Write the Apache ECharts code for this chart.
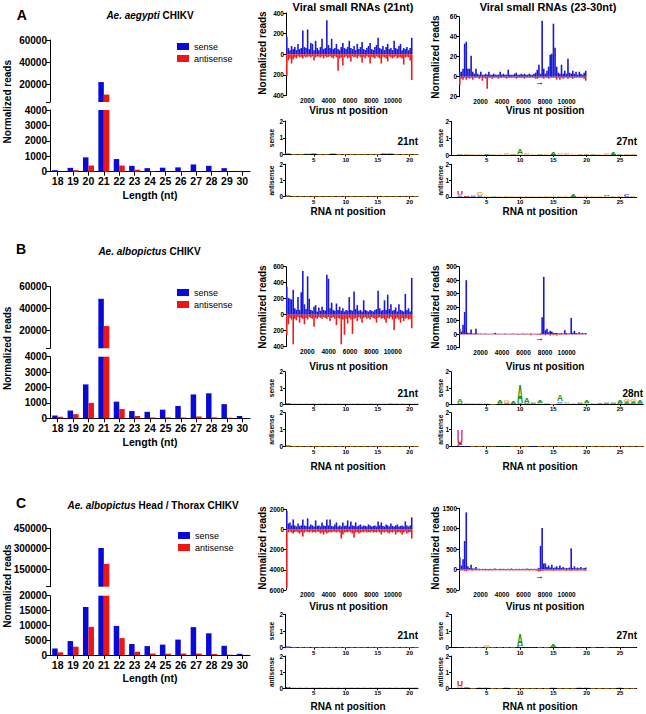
<!DOCTYPE html>
<html><head><meta charset="utf-8">
<script src="https://cdn.jsdelivr.net/npm/echarts@6/dist/echarts.min.js"></script>
<style>html,body{margin:0;padding:0;background:#fff}#c{width:646px;height:714px}</style>
</head><body><div id="c"></div><script>
const FONT = '"Liberation Sans", Arial, sans-serif';
const BLUE = '#0a0ad8', RED = '#ee1515', CBLUE = '#1a1ad6', CRED = '#ec1c1c';
const LOGO_COL = {A:'#139413', C:'#2a2ad0', G:'#f2a21e', U:'#d81818'};

// ---- read-length distributions ----
const lengths = ['18','19','20','21','22','23','24','25','26','27','28','29','30'];
const senseA = [100,250,930,22000,820,380,230,260,280,470,380,230,50];
const antiA  = [0,100,400,10700,400,130,30,10,10,20,10,10,0];
const senseB = [180,500,2200,49000,1080,470,420,560,800,1550,1620,920,150];
const antiB  = [100,270,1000,24200,600,150,50,60,50,120,60,40,0];
const senseC = [2200,4700,16200,305000,9800,3700,3000,3500,5200,9400,7300,3100,400];
const antiC  = [900,2800,9500,188000,5700,1100,500,450,500,500,350,100,50];

// ---- coverage along the genome, 150-nt bins ----
const BIN = 150;
const covA21S = [170,60,40,80,50,70,40,100,50,60,230,70,60,240,50,110,100,40,130,60,40,70,150,50,60,330,90,60,150,50,60,100,50,40,70,110,60,50,70,130,60,50,80,40,100,50,70,120,50,40,60,80,110,50,40,70,90,160,60,50,80,40,70,100,50,60,40,130,60,50,80,100,40,60,50,70,40,60,160];
const covA21A = [-210,-60,-40,-90,-50,-30,-40,-20,-30,-25,-40,-20,-30,-25,-20,-30,-20,-60,-30,-20,-25,-30,-20,-40,-20,-30,-25,-20,-30,-40,-20,-30,-160,-40,-30,-110,-30,-20,-40,-30,-70,-20,-30,-25,-40,-20,-30,-80,-25,-40,-20,-30,-90,-25,-30,-40,-20,-30,-40,-90,-25,-30,-40,-70,-20,-30,-40,-30,-20,-40,-30,-30,-40,-100,-30,-25,-30,-60,-250];
const covA30S = [5,5,8,33,35,8,8,21,5,3,8,3,2,5,2,2,3,2,5,2,2,3,2,2,2,5,2,3,2,2,7,2,2,2,3,4,2,2,3,2,3,2,2,3,2,2,3,4,7,12,3,56,8,3,6,10,22,23,53,29,10,4,3,12,3,6,3,18,4,3,6,3,5,2,5,3,2,4,6];
const covA30A = [-8,-2,-3,-1,-3,-1,-2,-1,-3,-1,-1,-1,-2,-1,-4,-1,-2,-12,-1,-1,-2,-1,-1,-1,-2,-1,-1,-1,-1,-2,-1,-1,-1,-1,-1,-2,-1,-1,-1,-1,-2,-1,-1,-1,-1,-1,-1,-2,-2,-1,-1,-1,-2,-1,-1,-2,-1,-1,-1,-1,-3,-1,-3,-1,-2,-1,-1,-2,-1,-1,-2,-1,-1,-1,-1,-1,-1,-2,-4];
const covB21S = [350,210,200,190,310,80,60,220,60,280,545,130,70,480,200,60,50,100,120,40,90,50,100,60,50,500,450,80,150,60,50,140,60,100,50,80,40,60,50,220,60,50,290,70,120,50,60,40,180,60,50,40,60,50,40,60,70,300,80,50,60,180,60,250,70,130,50,60,90,40,130,60,50,40,260,60,80,40,460];
const covB21A = [-250,-120,-40,-60,-370,-50,-70,-30,-100,-40,-50,-120,-40,-60,-30,-40,-50,-150,-40,-50,-30,-40,-50,-30,-40,-50,-30,-80,-40,-30,-50,-130,-40,-50,-370,-60,-250,-50,-110,-40,-60,-240,-50,-40,-80,-30,-50,-100,-40,-30,-50,-40,-60,-30,-40,-50,-100,-40,-30,-50,-40,-60,-100,-40,-50,-30,-60,-190,-50,-40,-60,-100,-40,-80,-50,-40,-60,-50,-170];
const covB30S = [40,20,70,165,400,10,8,35,5,6,40,5,4,5,3,3,5,3,4,3,3,5,10,3,3,4,3,3,5,3,3,4,3,6,3,3,4,3,3,5,3,3,4,3,5,3,3,4,3,4,5,125,425,30,40,15,25,20,10,8,10,6,5,8,6,30,8,5,6,120,10,25,8,5,15,6,10,5,8];
const covB30A = [-5,-2,-2,-2,-3,-2,-2,-2,-2,-2,-2,-2,-2,-2,-2,-2,-2,-2,-2,-2,-2,-2,-3,-2,-2,-2,-2,-2,-2,-2,-2,-2,-2,-2,-2,-2,-6,-2,-2,-2,-5,-2,-2,-2,-8,-2,-2,-2,-5,-2,-6,-2,-2,-8,-2,-2,-10,-2,-8,-2,-10,-2,-6,-2,-2,-2,-5,-2,-2,-2,-2,-2,-2,-2,-2,-2,-2,-2,-3];
const covC21S = [1850,600,700,400,1000,400,300,600,350,400,1000,400,350,1100,300,500,400,300,900,350,400,300,700,400,350,1000,400,1000,350,300,500,700,300,400,300,700,350,400,900,300,800,400,350,700,300,400,500,300,400,350,300,500,400,300,350,400,300,800,400,700,350,300,500,400,300,600,350,300,400,500,300,350,400,300,800,400,300,400,1200];
const covC21A = [-5800,-300,-200,-300,-400,-250,-200,-300,-400,-250,-700,-300,-200,-250,-300,-200,-300,-250,-300,-200,-250,-400,-300,-500,-250,-400,-300,-250,-300,-200,-250,-300,-200,-300,-900,-500,-300,-250,-300,-200,-300,-400,-800,-300,-250,-400,-300,-250,-300,-200,-300,-250,-300,-200,-300,-250,-300,-200,-300,-500,-250,-300,-200,-300,-400,-250,-300,-200,-500,-300,-250,-300,-500,-300,-200,-400,-300,-250,-900];
const covC30S = [300,100,250,700,1400,80,40,120,30,25,60,20,20,15,20,15,20,15,15,20,15,20,25,15,15,20,15,20,15,15,20,15,25,15,15,20,15,20,15,20,15,20,25,15,20,15,20,15,20,40,580,1020,150,150,60,100,50,120,40,50,80,40,100,40,60,30,40,30,50,520,40,80,30,50,30,60,25,40,50];
const covC30A = [-30,-20,-25,-30,-40,-20,-15,-20,-25,-15,-20,-15,-20,-15,-20,-15,-25,-15,-20,-15,-20,-15,-20,-15,-15,-20,-15,-20,-15,-20,-15,-20,-15,-20,-15,-20,-15,-20,-15,-20,-15,-20,-15,-25,-15,-20,-15,-20,-30,-50,-40,-30,-25,-20,-30,-20,-25,-20,-30,-20,-25,-20,-30,-20,-25,-20,-30,-20,-25,-30,-20,-25,-20,-30,-20,-25,-20,-25,-30];

// ---- sequence logos (bits per letter at each position) ----
const logoA21S = [{C:.05,G:.05},{G:.03},{G:.03},{G:.05,A:.04},{G:.05,A:.05},{G:.03},{G:.03},{G:.06,A:.05},{G:.03},{G:.03},{G:.03},{G:.03},{G:.03},{G:.03},{G:.03},{G:.05,A:.05},{G:.05,A:.05},{G:.03},{G:.03},{G:.03},{G:.03}];
const logoA21A = [{C:.06,G:.03},{G:.03},{G:.03},{G:.03},{G:.03},{G:.03},{G:.03},{G:.03},{G:.03},{G:.03},{G:.03},{G:.04},{G:.03},{G:.03},{G:.03},{G:.04},{G:.04},{G:.04},{G:.03},{G:.03},{G:.03}];
const logoB21S = [{C:.07,A:.03},{G:.03},{G:.03},{G:.05},{G:.05},{G:.03},{G:.03},{G:.06},{G:.03},{G:.03},{G:.03},{G:.03},{G:.03},{G:.03},{G:.03},{G:.06},{G:.07,A:.03},{G:.06},{G:.03},{G:.03},{G:.03}];
const logoB21A = [{C:.07,G:.03},{G:.03},{G:.03},{G:.03},{G:.03},{G:.03},{G:.03},{G:.05},{G:.03},{G:.03},{G:.03},{G:.03},{G:.03},{G:.03},{G:.03},{G:.03},{G:.06},{G:.07},{G:.06},{G:.03},{G:.03}];
const logoC21S = [{C:.06,G:.04},{G:.03},{G:.03},{G:.05},{G:.05},{G:.03},{G:.03},{G:.05},{G:.03},{G:.03},{G:.03},{G:.05},{G:.03},{G:.03},{G:.03},{G:.06},{G:.07},{G:.06},{G:.03},{G:.03},{G:.03}];
const logoC21A = [{C:.07,U:.03},{G:.03},{G:.03},{G:.03},{G:.05},{G:.03},{G:.03},{G:.05},{G:.03},{G:.03},{G:.03},{G:.03},{G:.03},{G:.03},{G:.03},{G:.03},{G:.06},{G:.07},{G:.06},{G:.03},{G:.03}];
const logoA27S = [{G:.03,A:.03},{A:.02,G:.02},{G:.02},{G:.02},{C:.03,A:.09},{G:.02},{G:.02},{G:.03,A:.05},{G:.03,A:.04},{G:.06,A:.3},{G:.03,A:.07},{G:.02},{G:.02,A:.02},{G:.03},{C:.03,A:.11},{G:.03,A:.07},{G:.03,A:.05},{G:.02},{G:.03,A:.02},{G:.03,A:.03},{G:.02,A:.02},{G:.02},{G:.04,A:.04},{C:.03,A:.13},{G:.03,A:.03},{G:.03,A:.02},{G:.03,A:.02}];
const logoA27A = [{C:.05,G:.05,U:.25},{C:.02,U:.02},{C:.05,A:.05},{C:.05,G:.2},{G:.03},{A:.08},{G:.02},{G:.06},{G:.04},{G:.04},{G:.03},{G:.02},{G:.06},{G:.04},{G:.05},{G:.03},{G:.06},{C:.03,A:.12},{G:.08},{G:.04},{G:.02},{G:.02},{G:.04,U:.08},{G:.1},{G:.06},{C:.12},{G:.04}];
const logoB28S = [{C:.07,A:.2},{A:.08},{G:.03},{G:.03},{G:.06},{G:.02},{C:.08,A:.12},{C:.07,G:.18},{A:.12},{C:.08,A:1.12},{C:.07,A:.35},{C:.1,A:.1},{G:.08,A:.17},{A:.08},{G:.02},{C:.1,G:.08,A:.4},{G:.1,A:.1},{G:.05},{C:.08,A:.1},{G:.08,A:.14},{G:.06},{C:.05},{C:.07,A:.08},{C:.08,A:.1},{C:.08,A:.12},{G:.15,A:.13},{G:.18,A:.12},{C:.08,A:.17}];
const logoB28A = [{C:.12,U:.9},{C:.05},{G:.02},{G:.05},{G:.05},{G:.02},{A:.08},{A:.08},{G:.02},{G:.04},{G:.02},{C:.04},{G:.02},{G:.02},{G:.04},{G:.02},{G:.02},{G:.02},{G:.04},{G:.08},{G:.07},{G:.02},{G:.02},{G:.04},{G:.02},{G:.02},{G:.02},{G:.02}];
const logoC27S = [{A:.06},{G:.02},{G:.02},{G:.02},{G:.18},{G:.06},{G:.02},{G:.08},{G:.05},{C:.12,A:.7},{A:.1},{A:.08},{G:.04},{G:.03},{C:.04,A:.18},{A:.1},{A:.1},{G:.03},{A:.1},{A:.1},{G:.1},{A:.06},{G:.03},{A:.1},{A:.1},{A:.1},{A:.08}];
const logoC27A = [{G:.12,U:.35},{C:.05},{G:.02},{G:.05},{G:.05},{G:.02},{G:.02},{G:.05},{G:.02},{G:.02},{G:.02},{G:.02},{G:.02},{G:.02},{G:.05},{G:.02},{G:.02},{G:.02},{G:.04},{G:.04},{G:.02},{G:.02},{G:.02},{G:.02},{G:.08},{G:.02},{G:.02}];

// ---------------- layout ----------------
const barRows = [
  {sense:senseA, anti:antiA, top:[40,62], bot:[110,61.7], split:4000, max:60000, topLabels:[20000,40000,60000], botInt:1000, legend:[177,42]},
  {sense:senseB, anti:antiB, top:[286.7,61.6], bot:[356.7,61.6], split:4000, max:60000, topLabels:[20000,40000,60000], botInt:1000, legend:[177,288]},
  {sense:senseC, anti:antiC, top:[528.3,58.4], bot:[595.7,59.3], split:20000, max:450000, topLabels:[150000,300000,450000], botInt:5000, legend:[178,531]}
];
const covPanels = [
  {s:covA21S, a:covA21A, left:286, width:126, top:13, height:82.5, min:-400, max:400, step:200},
  {s:covA30S, a:covA30A, left:459, width:127, top:16.7, height:80, min:-20, max:60, step:20},
  {s:covB21S, a:covB21A, left:286, width:126, top:266.7, height:80, min:-400, max:600, step:200},
  {s:covB30S, a:covB30A, left:459, width:127, top:266.7, height:81, min:-100, max:500, step:100},
  {s:covC21S, a:covC21A, left:286, width:126, top:509.3, height:80.7, min:-6000, max:2000, step:2000},
  {s:covC30S, a:covC30A, left:459, width:127, top:508.3, height:81.7, min:-500, max:1500, step:500}
];
const MID = {left:285, width:133, min:0.5, max:21.3, ticks:[5,10,15,20]};
const RIGHT27 = {left:451, width:185.7, min:-0.35, max:27.5, ticks:[5,10,15,20,25]};
const RIGHT28 = {left:451, width:192.3, min:-0.35, max:28.5, ticks:[5,10,15,20,25]};
const logoPanels = [
  Object.assign({stacks:logoA21S, top:121, height:33.5}, MID),
  Object.assign({stacks:logoA21A, top:164.3, height:32.4}, MID),
  Object.assign({stacks:logoA27S, top:121.5, height:33.5}, RIGHT27),
  Object.assign({stacks:logoA27A, top:164.3, height:32.6}, RIGHT27),
  Object.assign({stacks:logoB21S, top:371.7, height:32.6}, MID),
  Object.assign({stacks:logoB21A, top:412.7, height:34}, MID),
  Object.assign({stacks:logoB28S, top:371.7, height:32.6}, RIGHT28),
  Object.assign({stacks:logoB28A, top:412.7, height:34}, RIGHT28),
  Object.assign({stacks:logoC21S, top:614.3, height:33.4}, MID),
  Object.assign({stacks:logoC21A, top:656, height:32.3}, MID),
  Object.assign({stacks:logoC27S, top:614.3, height:33.4}, RIGHT27),
  Object.assign({stacks:logoC27A, top:656, height:32.3}, RIGHT27)
];

const option = {animation:false, backgroundColor:'#fff', grid:[], xAxis:[], yAxis:[], series:[], legend:[], graphic:[]};
function addGrid(g){ option.grid.push(Object.assign({outerBoundsMode:'none', containLabel:false}, g)); return option.grid.length-1; }
function addX(a){ option.xAxis.push(a); return option.xAxis.length-1; }
function addY(a){ option.yAxis.push(a); return option.yAxis.length-1; }
const line = {show:true, onZero:false, lineStyle:{color:'#000', width:1}};
const plain = v => String(v);
const lab = (size, extra) => Object.assign({color:'#000', fontSize:size, fontWeight:'bold', fontFamily:FONT}, extra||{});

// ---- broken-axis bar charts ----
barRows.forEach(r => {
  const gt = addGrid({left:50, width:200, top:r.top[0], height:r.top[1]});
  const gb = addGrid({left:50, width:200, top:r.bot[0], height:r.bot[1]});
  const xt = addX({gridIndex:gt, type:'category', data:lengths, show:false});
  const xb = addX({gridIndex:gb, type:'category', data:lengths, axisLine:line,
    axisTick:{show:true, alignWithLabel:true, length:4, lineStyle:{color:'#000'}},
    axisLabel:lab(10.5, {margin:4, interval:0})});
  const yt = addY({gridIndex:gt, type:'value', min:r.split, max:r.max, axisLine:line,
    axisTick:{show:true, length:4, customValues:[r.split].concat(r.topLabels), lineStyle:{color:'#000'}},
    axisLabel:lab(10, {customValues:r.topLabels, margin:3, formatter:plain}), splitLine:{show:false}});
  const yb = addY({gridIndex:gb, type:'value', min:0, max:r.split, interval:r.botInt, axisLine:line,
    axisTick:{show:true, length:4, lineStyle:{color:'#000'}},
    axisLabel:lab(10, {margin:3, formatter:plain}), splitLine:{show:false}});
  const cut = v => v > r.split ? v : '-';
  option.series.push(
    {type:'bar', name:'sense', xAxisIndex:xt, yAxisIndex:yt, data:r.sense.map(cut), barWidth:5.5, barGap:'0%', itemStyle:{color:BLUE}, clip:true},
    {type:'bar', name:'antisense', xAxisIndex:xt, yAxisIndex:yt, data:r.anti.map(cut), barWidth:5.5, barGap:'0%', itemStyle:{color:RED}, clip:true},
    {type:'bar', name:'sense', xAxisIndex:xb, yAxisIndex:yb, data:r.sense, barWidth:5.5, barGap:'0%', itemStyle:{color:BLUE}, clip:true},
    {type:'bar', name:'antisense', xAxisIndex:xb, yAxisIndex:yb, data:r.anti, barWidth:5.5, barGap:'0%', itemStyle:{color:RED}, clip:true}
  );
  option.legend.push({left:r.legend[0], top:r.legend[1], orient:'vertical', itemWidth:12, itemHeight:7, itemGap:3,
    icon:'rect', selectedMode:false, data:['sense','antisense'], padding:0,
    textStyle:{fontSize:9, color:'#000', fontFamily:FONT}});
});

// ---- coverage plots ----
covPanels.forEach((p, k) => {
  const g = addGrid({left:p.left, width:p.width, top:p.top, height:p.height});
  const x = addX({gridIndex:g, type:'value', min:0, max:11800, axisLine:{show:false, onZero:false}, axisTick:{show:false},
    splitLine:{show:false}, axisLabel:lab(6.5, {customValues:[2000,4000,6000,8000,10000], margin:1, formatter:plain})});
  const y = addY({gridIndex:g, type:'value', min:p.min, max:p.max, interval:p.step, axisLine:line,
    axisTick:{show:true, length:3, lineStyle:{color:'#000'}}, splitLine:{show:false},
    axisLabel:lab(6.5, {margin:2, formatter:v => String(Math.abs(v))})});
  const bw = p.width / 11800 * BIN;
  option.series.push(
    {type:'bar', name:'cov'+k+'s', xAxisIndex:x, yAxisIndex:y, data:p.s.map((v,i)=>[i*BIN+BIN/2, v]), barWidth:bw, barGap:'-100%', itemStyle:{color:CBLUE}, clip:true},
    {type:'bar', name:'cov'+k+'a', xAxisIndex:x, yAxisIndex:y, data:p.a.map((v,i)=>[i*BIN+BIN/2, v]), barWidth:bw, barGap:'-100%', itemStyle:{color:CRED}, clip:true}
  );
});

// ---- sequence logos ----
function logoRender(stacks){
  return function(params, api){
    const i = params.dataIndex, pos = i + 1;
    const items = Object.entries(stacks[i]).sort((a,b)=>a[1]-b[1]);
    let y0 = 0; const children = [];
    const F = 20;
    items.forEach(([L,h]) => {
      if (!(h > 0)) return;
      const p0 = api.coord([pos-0.45, y0]);
      const p1 = api.coord([pos+0.45, y0+h]);
      const w = p1[0]-p0[0], hh = p0[1]-p1[1];
      children.push({type:'text', x:(p0[0]+p1[0])/2, y:(p0[1]+p1[1])/2,
        scaleX: w/(0.72*F), scaleY: Math.max(hh,0.8)/(0.716*F), silent:true,
        style:{text:L, fontSize:F, fontWeight:'bold', fontFamily:FONT, fill:LOGO_COL[L], align:'center', verticalAlign:'middle'}});
      y0 += h;
    });
    return {type:'group', children};
  };
}
logoPanels.forEach(p => {
  const g = addGrid({left:p.left, width:p.width, top:p.top, height:p.height});
  const x = addX({gridIndex:g, type:'value', min:p.min, max:p.max, axisLine:line,
    axisTick:{show:true, length:2, customValues:p.ticks, lineStyle:{color:'#000'}}, splitLine:{show:false},
    axisLabel:lab(6, {customValues:p.ticks, margin:2})});
  const y = addY({gridIndex:g, type:'value', min:0, max:2, interval:1, axisLine:line,
    axisTick:{show:true, length:2, lineStyle:{color:'#000'}}, splitLine:{show:false},
    axisLabel:lab(6.5, {margin:2})});
  option.series.push({type:'custom', xAxisIndex:x, yAxisIndex:y, clip:false,
    data:p.stacks.map((s,i)=>[i+1, 0]), renderItem:logoRender(p.stacks)});
});

// ---- texts ----
function T(text, x, y, size, opts){
  const o = opts || {};
  option.graphic.push({type:'text', x, y, rotation:o.rot||0, silent:true,
    style:Object.assign({text, fontSize:size, fontWeight:o.weight||'bold', fontFamily:FONT, fill:'#000',
      align:o.align||'center', verticalAlign:'middle'}, o.rich ? {rich:o.rich} : {})});
}
const ROT = Math.PI/2;
const italic = {i:{fontStyle:'italic', fontWeight:'bold', fontSize:10, fontFamily:FONT, fill:'#000'}, n:{fontWeight:'bold', fontSize:10, fontFamily:FONT, fill:'#000'}};
T('A', 21.7, 14.7, 14); T('B', 21, 249.3, 14); T('C', 21, 503.3, 14);
T('{i|Ae. aegypti}{n| CHIKV}', 150, 15, 10, {rich:italic});
T('{i|Ae. albopictus}{n| CHIKV}', 149.5, 251, 10, {rich:italic});
T('{i|Ae. albopictus}{n| Head / Thorax CHIKV}', 153, 505, 10, {rich:italic});
[[101.7,195],[348.3,441.7],[586,678.3]].forEach(([ym, yl]) => {
  T('Normalized reads', 7, ym, 10, {rot:ROT});
  T('Length (nt)', 150, yl, 10.5);
});
T('Viral small RNAs (21nt)', 353, 7, 11);
T('Viral small RNAs (23-30nt)', 548, 7, 11);
[[53,57,110.5,82],[307,307,366,338.3],[548,548,606,576]].forEach(([ym, yr, yv, ya]) => {
  T('Normalized reads', 262, ym, 10, {rot:ROT});
  T('Normalized reads', 435, yr, 10, {rot:ROT});
  T('Virus nt position', 348.5, yv, 10);
  T('Virus nt position', 545, yv, 10);
  T('\u2192', 539.5, ya, 9, {weight:'normal'});
});
[[138,180.5,141.7,211,'27nt',637],[388,429.7,393.3,466.7,'28nt',643],[631,672,635.7,706,'27nt',637]].forEach(([ys, ya, yn, yr, lbl, xr]) => {
  T('sense', 271.5, ys, 6.5, {rot:ROT});
  T('antisense', 271.5, ya, 6.5, {rot:ROT});
  T('sense', 440.5, ys, 6.5, {rot:ROT});
  T('antisense', 440.5, ya, 6.5, {rot:ROT});
  T('21nt', 418, yn, 10, {align:'right'});
  T(lbl, xr, yn, 10, {align:'right'});
  T('RNA nt position', 348, yr, 10);
  T('RNA nt position', 540, yr, 10);
});

const chart = echarts.init(document.getElementById('c'), null, {renderer:'svg', width:646, height:714});
chart.setOption(option);
</script></body></html>
